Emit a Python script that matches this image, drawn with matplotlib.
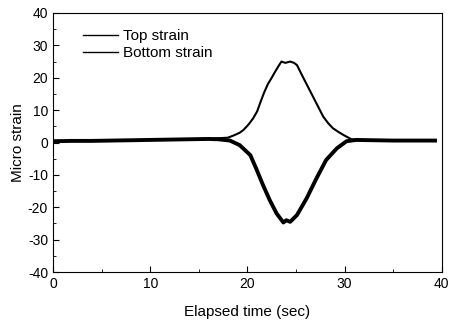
import matplotlib
matplotlib.use("Agg")
import matplotlib.pyplot as plt
from matplotlib.ticker import MultipleLocator

plt.rcParams['font.family'] = ['Liberation Sans', 'DejaVu Sans']
plt.rcParams['axes.unicode_minus'] = False

# Top strain
top_t = [0, 2, 4, 6, 8, 10, 12, 14, 16, 17, 18, 18.6, 19.2, 19.6, 20.1, 20.6,
         21.0, 21.3, 21.7, 22.1, 22.5, 22.8, 23.2, 23.5, 23.9, 24.4, 24.8, 25.1,
         25.7, 26.4, 27.1, 27.8, 28.3, 28.8, 29.4, 29.9, 30.7, 31.5, 33, 35, 37,
         39.3]
top_v = [0.4, 0.5, 0.5, 0.6, 0.7, 0.8, 0.9, 1.0, 1.2, 1.3, 1.5, 2.2, 3.0, 3.9,
         5.5, 7.5, 9.6, 12.1, 15.3, 18.0, 20.0, 21.6, 23.6, 25.0, 24.6, 25.0,
         24.6, 23.9, 20.3, 16.2, 12.1, 8.0, 6.0, 4.4, 3.2, 2.3, 1.0, 0.7, 0.6,
         0.6, 0.6, 0.6]

# Bottom strain
bot_t = [0, 2, 4, 6, 8, 10, 12, 14, 16, 17, 18.2, 19.2, 20.3, 20.9, 21.6, 22.3,
         23.0, 23.7, 24.0, 24.4, 25.1, 26.1, 27.1, 28.1, 29.2, 30.2, 31.2, 33,
         35, 37, 39.3]
bot_v = [0.4, 0.5, 0.5, 0.6, 0.7, 0.8, 0.9, 1.0, 1.1, 1.0, 0.6, -0.8, -3.9,
         -8.0, -13.1, -17.8, -21.9, -24.7, -24.0, -24.5, -22.4, -17.2, -11.1,
         -5.4, -1.8, 0.4, 0.8, 0.7, 0.6, 0.6, 0.6]

fig = plt.figure(figsize=(4.49, 3.25), dpi=100)
ax = fig.add_axes([0.118, 0.163, 0.866, 0.797])

ax.plot(top_t, top_v, color='black', lw=1.5, label='Top strain')
ax.plot(bot_t, bot_v, color='black', lw=2.8, label='Bottom strain')

ax.set_xlim(0, 40)
ax.set_ylim(-40, 40)
ax.xaxis.set_major_locator(MultipleLocator(10))
ax.xaxis.set_minor_locator(MultipleLocator(5))
ax.yaxis.set_major_locator(MultipleLocator(10))
ax.yaxis.set_minor_locator(MultipleLocator(5))
ax.tick_params(which='both', direction='in', labelsize=10)
ax.tick_params(which='major', length=4)
ax.tick_params(which='minor', length=2)

ax.set_xlabel('Elapsed time (sec)', fontsize=11, labelpad=10)
ax.set_ylabel('Micro strain', fontsize=11, labelpad=2)

leg = ax.legend(loc='upper left', frameon=False, fontsize=11, handlelength=2.3,
                handletextpad=0.3, labelspacing=0.2, borderaxespad=0.3,
                bbox_to_anchor=(0.05, 0.98))
for h in leg.get_lines():
    h.set_linewidth(1.0)

fig.savefig('out.png', dpi=100)
